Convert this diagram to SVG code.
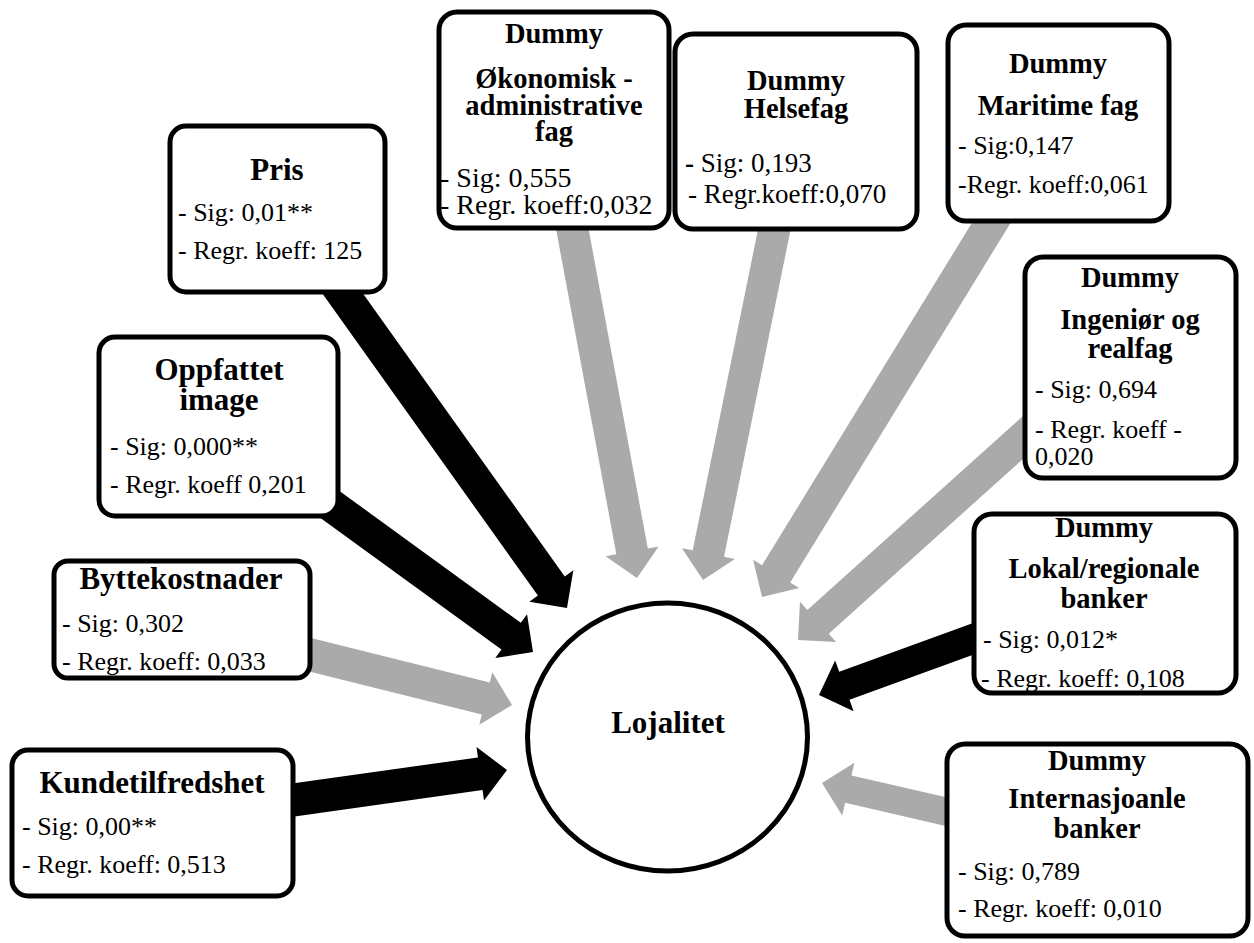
<svg xmlns="http://www.w3.org/2000/svg" width="1254" height="943" viewBox="0 0 1254 943">
<style>
text{font-family:'Liberation Serif','Times New Roman',serif;fill:#000}
.t{font-weight:bold;font-size:31px;text-anchor:middle}
.d{font-weight:bold;font-size:28.5px;text-anchor:middle}
.b{font-size:26px}
.box{fill:#fff;stroke:#000;stroke-width:5}
.blk{fill:#000}
.gry{fill:#aaaaaa}
</style>
<rect width="1254" height="943" fill="#fff"/>
<g id="connectors">
<polygon class="blk" transform="translate(567,608) rotate(54.5)" points="0,0 -27,-27 -27,-16.5 -400,-16.5 -400,16.5 -27,16.5 -27,27"/>
<polygon class="blk" transform="translate(533,652) rotate(36)" points="0,0 -27,-27 -27,-16.5 -285,-16.5 -285,16.5 -27,16.5 -27,27"/>
<polygon class="gry" transform="translate(512,705) rotate(14)" points="0,0 -27,-27 -27,-16.5 -235,-16.5 -235,16.5 -27,16.5 -27,27"/>
<polygon class="blk" transform="translate(507,770) rotate(-8)" points="0,0 -27,-27 -27,-16.5 -240,-16.5 -240,16.5 -27,16.5 -27,27"/>
<polygon class="gry" transform="translate(637,578) rotate(79.5)" points="0,0 -27,-27 -27,-16 -370,-16 -370,16 -27,16 -27,27"/>
<polygon class="gry" transform="translate(703,580) rotate(101.5)" points="0,0 -27,-27 -27,-16 -365,-16 -365,16 -27,16 -27,27"/>
<polygon class="gry" transform="translate(762,597) rotate(121.5)" points="0,0 -27,-27 -27,-16.5 -455,-16.5 -455,16.5 -27,16.5 -27,27"/>
<polygon class="gry" transform="translate(798,640) rotate(138)" points="0,0 -27,-27 -27,-16 -335,-16 -335,16 -27,16 -27,27"/>
<polygon class="blk" transform="translate(819,695) rotate(160)" points="0,0 -27,-27 -27,-15 -190,-15 -190,15 -27,15 -27,27"/>
<polygon class="gry" transform="translate(822,783) rotate(193)" points="0,0 -27,-27 -27,-14 -150,-14 -150,14 -27,14 -27,27"/>
</g>
<g id="lojalitet">
<ellipse cx="667.5" cy="737" rx="140" ry="134" fill="#fff" stroke="#000" stroke-width="5"/>
<text class="t" x="668" y="733">Lojalitet</text>
</g>
<g id="pris">
<rect class="box" x="170" y="126" width="215" height="166" rx="16"/>
<text class="t" x="277" y="180">Pris</text>
<text class="b" x="178" y="221">- Sig: 0,01**</text>
<text class="b" x="178" y="259">- Regr. koeff: 125</text>
</g>
<g id="oppfattet">
<rect class="box" x="99" y="337" width="239" height="179" rx="16"/>
<text class="t" x="219" y="380">Oppfattet</text>
<text class="t" x="219" y="410">image</text>
<text class="b" x="110" y="455">- Sig: 0,000**</text>
<text class="b" x="110" y="493">- Regr. koeff 0,201</text>
</g>
<g id="byttekostnader">
<rect class="box" x="54" y="561" width="256" height="117" rx="14"/>
<text class="t" x="181" y="589">Byttekostnader</text>
<text class="b" x="62" y="632">- Sig: 0,302</text>
<text class="b" x="62" y="670">- Regr. koeff: 0,033</text>
</g>
<g id="kundetilfredshet">
<rect class="box" x="12" y="750" width="281" height="146" rx="16"/>
<text class="t" x="152" y="793">Kundetilfredshet</text>
<text class="b" x="22" y="835">- Sig: 0,00**</text>
<text class="b" x="22" y="873">- Regr. koeff: 0,513</text>
</g>
<g id="okonomisk">
<rect class="box" x="439" y="12" width="230" height="216" rx="18"/>
<text class="d" x="554" y="43">Dummy</text>
<text class="d" x="554" y="88">Økonomisk -</text>
<text class="d" x="554" y="115">administrative</text>
<text class="d" x="554" y="141">fag</text>
<text class="b" x="440" y="187" style="font-size:28px">- Sig: 0,555</text>
<text class="b" x="440" y="214" style="font-size:28px">- Regr. koeff:0,032</text>
</g>
<g id="helsefag">
<rect class="box" x="675" y="34" width="242" height="195" rx="18"/>
<text class="d" x="796" y="90">Dummy</text>
<text class="d" x="796" y="118">Helsefag</text>
<text class="b" x="685" y="172" style="font-size:27px"><tspan font-weight="bold">-</tspan> Sig: 0,193</text>
<text class="b" x="688" y="203" style="font-size:27px">- Regr.koeff:0,070</text>
</g>
<g id="maritime">
<rect class="box" x="948" y="25" width="221" height="196" rx="18"/>
<text class="d" x="1058" y="73">Dummy</text>
<text class="d" x="1058" y="115">Maritime fag</text>
<text class="b" x="958" y="154">- Sig:0,147</text>
<text class="b" x="958" y="193">-Regr. koeff:0,061</text>
</g>
<g id="ingenior">
<rect class="box" x="1025" y="257" width="211" height="221" rx="18"/>
<text class="d" x="1130" y="287">Dummy</text>
<text class="d" x="1130" y="329">Ingeniør og</text>
<text class="d" x="1130" y="358">realfag</text>
<text class="b" x="1035" y="398">- Sig: 0,694</text>
<text class="b" x="1035" y="438">- Regr. koeff -</text>
<text class="b" x="1035" y="465">0,020</text>
</g>
<g id="lokal">
<rect class="box" x="974" y="514" width="262" height="179" rx="18"/>
<text class="d" x="1104" y="537">Dummy</text>
<text class="d" x="1104" y="578">Lokal/regionale</text>
<text class="d" x="1104" y="608">banker</text>
<text class="b" x="983" y="648">- Sig: 0,012*</text>
<text class="b" x="981" y="687">- Regr. koeff: 0,108</text>
</g>
<g id="internasjonale">
<rect class="box" x="947" y="744" width="301" height="192" rx="18"/>
<text class="d" x="1097" y="770">Dummy</text>
<text class="d" x="1097" y="808">Internasjoanle</text>
<text class="d" x="1097" y="838">banker</text>
<text class="b" x="958" y="880">- Sig: 0,789</text>
<text class="b" x="958" y="917">- Regr. koeff: 0,010</text>
</g>
</svg>
